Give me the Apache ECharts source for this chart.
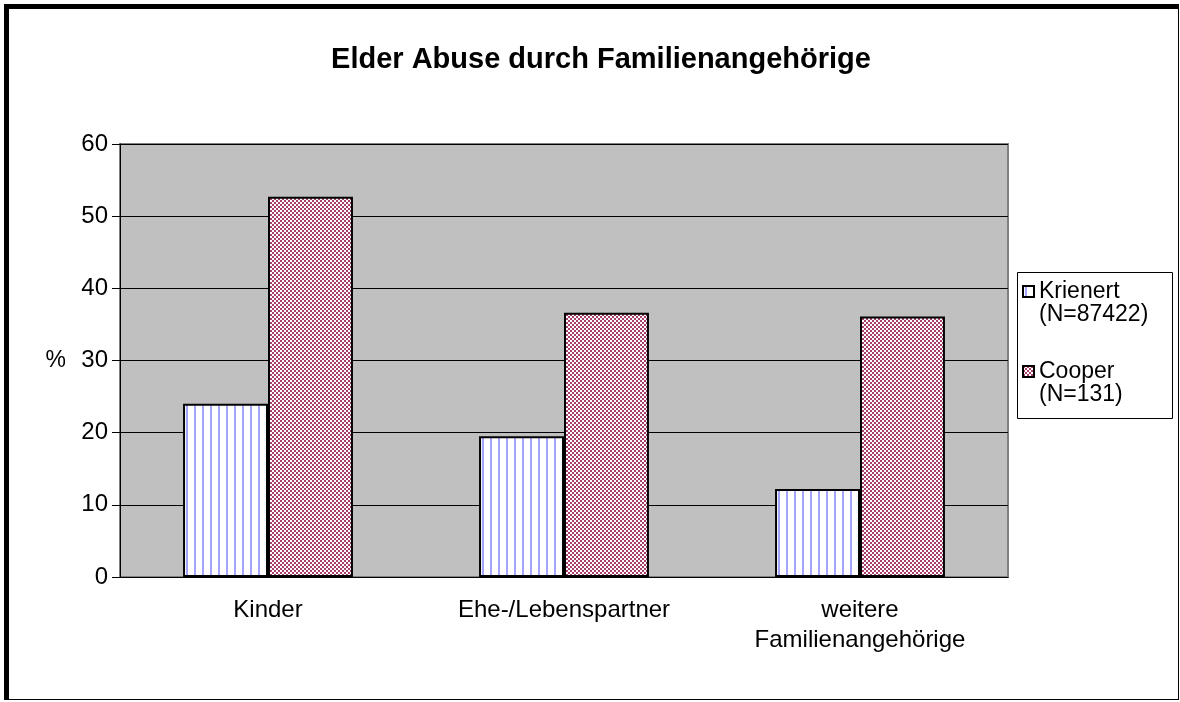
<!DOCTYPE html>
<html>
<head>
<meta charset="utf-8">
<script src="https://cdn.jsdelivr.net/npm/echarts@6/dist/echarts.min.js"></script>
<style>
  html, body { margin: 0; padding: 0; background: #fff; }
  #wrap { position: relative; width: 1180px; height: 702px; }
  #chart { width: 1180px; height: 702px; }
  #frame {
    position: absolute; left: 4px; top: 4px; width: 1169px; height: 690px;
    border-top: 5px solid #000; border-left: 5px solid #000;
    border-right: 1px solid #000; border-bottom: 1px solid #000;
    pointer-events: none;
  }
</style>
</head>
<body>
<div id="wrap">
  <div id="chart"></div>
  <div id="frame"></div>
</div>
<script>
var categories = ['Kinder', 'Ehe-/Lebenspartner', 'weitere\nFamilienangehörige'];
var krienert = [24.0, 19.5, 12.2];
var cooper = [52.7, 36.6, 36.1];
var seriesNames = ['Krienert\n(N=87422)', 'Cooper\n(N=131)'];

// Excel-like fill patterns
function stripePattern() {
  var c = document.createElement('canvas');
  c.width = 8; c.height = 8;
  var ctx = c.getContext('2d');
  ctx.fillStyle = '#ffffff';
  ctx.fillRect(0, 0, 8, 8);
  ctx.fillStyle = '#a4a4ff';
  ctx.fillRect(2, 0, 2, 8);
  return c;
}
function checkerPattern() {
  var c = document.createElement('canvas');
  c.width = 4; c.height = 4;
  var ctx = c.getContext('2d');
  ctx.fillStyle = '#ffffff';
  ctx.fillRect(0, 0, 4, 4);
  ctx.fillStyle = '#a8406e';
  ctx.fillRect(0, 0, 2, 2);
  ctx.fillRect(2, 2, 2, 2);
  return c;
}

var chart = echarts.init(document.getElementById('chart'));

var option = {
  animation: false,
  textStyle: { fontFamily: 'Liberation Sans, Arial, sans-serif' },
  title: {
    text: 'Elder Abuse durch Familienangehörige',
    left: 596,
    top: 40,
    textAlign: 'center',
    textStyle: { fontSize: 29, fontWeight: 'bold', color: '#000' }
  },
  // legend frame
  graphic: [{
    type: 'rect',
    left: 1017,
    top: 272,
    shape: { width: 155, height: 146 },
    style: { fill: '#fff', stroke: '#000', lineWidth: 1 },
    z: -1
  }],
  legend: {
    orient: 'vertical',
    left: 1022,
    top: 257,
    padding: 0,
    itemGap: 11,
    itemWidth: 11,
    itemHeight: 11,
    icon: 'rect',
    data: seriesNames,
    formatter: function (name) { return '\u00a0\n' + name; },
    textStyle: {
      fontSize: 23,
      color: '#000',
      lineHeight: 23
    }
  },
  grid: {
    left: 120,
    right: 172,
    top: 144,
    bottom: 125,
    show: true,
    backgroundColor: '#c0c0c0',
    borderColor: '#808080',
    borderWidth: 2
  },
  xAxis: {
    type: 'category',
    data: categories,
    axisLine: { lineStyle: { color: '#000', width: 1 } },
    axisTick: { length: 9, lineStyle: { color: '#000' } },
    axisLabel: { fontSize: 24, color: '#000', margin: 18, lineHeight: 30 }
  },
  yAxis: {
    type: 'value',
    min: 0,
    max: 60,
    interval: 10,
    name: '%',
    nameLocation: 'middle',
    nameRotate: 0,
    nameGap: 54,
    nameTextStyle: { fontSize: 23, color: '#000' },
    axisLine: { show: true, lineStyle: { color: '#000', width: 1 } },
    axisTick: { show: true, length: 8, lineStyle: { color: '#000' } },
    axisLabel: { fontSize: 24, color: '#000', margin: 12 },
    splitLine: { lineStyle: { color: '#000', width: 1 } }
  },
  series: [
    {
      name: seriesNames[0],
      type: 'bar',
      data: krienert,
      barGap: '0%',
      barCategoryGap: '42.6%',
      itemStyle: {
        color: { image: stripePattern(), repeat: 'repeat' },
        borderColor: '#000',
        borderWidth: 2
      }
    },
    {
      name: seriesNames[1],
      type: 'bar',
      data: cooper,
      barGap: '0%',
      barCategoryGap: '42.6%',
      itemStyle: {
        color: { image: checkerPattern(), repeat: 'repeat' },
        borderColor: '#000',
        borderWidth: 2
      }
    }
  ]
};

chart.setOption(option);
</script>
</body>
</html>
